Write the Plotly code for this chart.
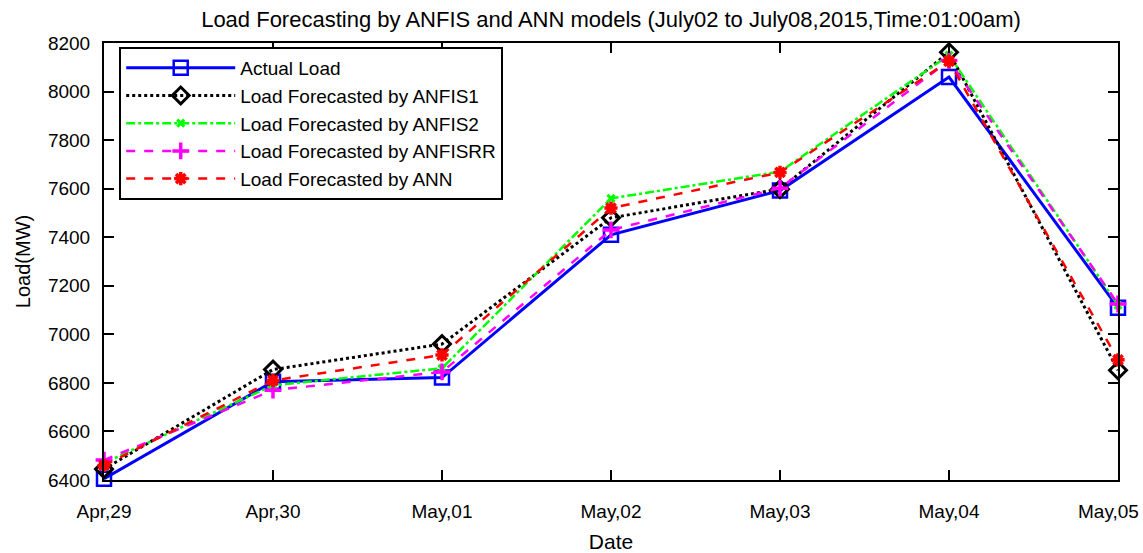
import plotly.graph_objects as go

dates = ["Apr,29", "Apr,30", "May,01", "May,02", "May,03", "May,04", "May,05"]
actual_load = [6405, 6805, 6822, 7410, 7592, 8060, 7110]
anfis1 = [6445, 6855, 6960, 7480, 7598, 8162, 6852]
anfis2 = [6470, 6790, 6860, 7560, 7670, 8150, 7120]
anfisrr = [6482, 6770, 6845, 7430, 7602, 8128, 7125]
ann = [6460, 6810, 6915, 7520, 7667, 8125, 6895]

FONT = "Liberation Sans, Arial, sans-serif"

series = [
    ("Actual Load", actual_load, "#0000ff", "solid", 3,
     dict(symbol="square-open", size=14, line=dict(width=2.5, color="#0000ff"))),
    ("Load Forecasted by ANFIS1", anfis1, "#000000", "dot", 3,
     dict(symbol="diamond-open", size=13, line=dict(width=3, color="#000000"))),
    ("Load Forecasted by ANFIS2", anfis2, "#00ff00", "dashdot", 2.5,
     dict(symbol="x-thin-open", size=7, line=dict(width=3, color="#00ff00"))),
    ("Load Forecasted by ANFISRR", anfisrr, "#ff00ff", "dash", 2.5,
     dict(symbol="cross-thin-open", size=12, line=dict(width=3.5, color="#ff00ff"))),
    ("Load Forecasted by ANN", ann, "#ff0000", "dash", 2.5,
     dict(symbol="asterisk-open", size=11, line=dict(width=3.5, color="#ff0000"))),
]

fig = go.Figure()
for name, vals, color, dash, width, marker in series:
    fig.add_trace(go.Scatter(
        x=list(range(len(dates))), y=vals, name=name, mode="lines+markers",
        line=dict(color=color, dash=dash, width=width),
        marker=marker, cliponaxis=False,
    ))

axis_common = dict(
    showline=True, linecolor="black", linewidth=2, mirror="allticks",
    ticks="inside", ticklen=10, tickwidth=1.5, tickcolor="black",
    showgrid=False, zeroline=False, automargin=False,
    tickfont=dict(family=FONT, size=19, color="black"),
)

# the last date label sits flush against the right edge of the figure,
# so it is placed as a right-anchored annotation below its tick
tick_labels = dates[:-1] + [""]

fig.update_xaxes(
    **axis_common,
    range=[0, 6], tickmode="array", tickvals=list(range(len(dates))), ticktext=tick_labels,
    ticklabelstandoff=13,
    title=dict(text="Date", font=dict(family=FONT, size=21, color="black"), standoff=15),
)
fig.update_yaxes(
    **axis_common,
    range=[6400, 8200], dtick=200, tick0=6400,
    ticklabelstandoff=8,
    title=dict(text="Load(MW)", font=dict(family=FONT, size=20, color="black"), standoff=12),
)

fig.add_annotation(
    text=dates[-1], xref="paper", yref="paper", x=1.0227, y=0,
    xanchor="right", yanchor="middle", yshift=-31, showarrow=False,
    font=dict(family=FONT, size=19, color="black"),
)

fig.update_layout(
    width=1143, height=553,
    margin=dict(l=104, r=25, t=43, b=73),
    paper_bgcolor="white", plot_bgcolor="white",
    title=dict(
        text="Load Forecasting by ANFIS and ANN models (July02 to July08,2015,Time:01:00am)",
        font=dict(family=FONT, size=22, color="black"),
        x=0.5, xanchor="center", xref="paper", y=0.966, yanchor="middle", yref="container",
    ),
    legend=dict(
        x=0.015, y=0.991, xanchor="left", yanchor="top",
        bordercolor="black", borderwidth=2, bgcolor="white",
        itemwidth=109, tracegroupgap=0,
        font=dict(family=FONT, size=19, color="black"),
    ),
    showlegend=True,
)

fig.write_html("out.html")
